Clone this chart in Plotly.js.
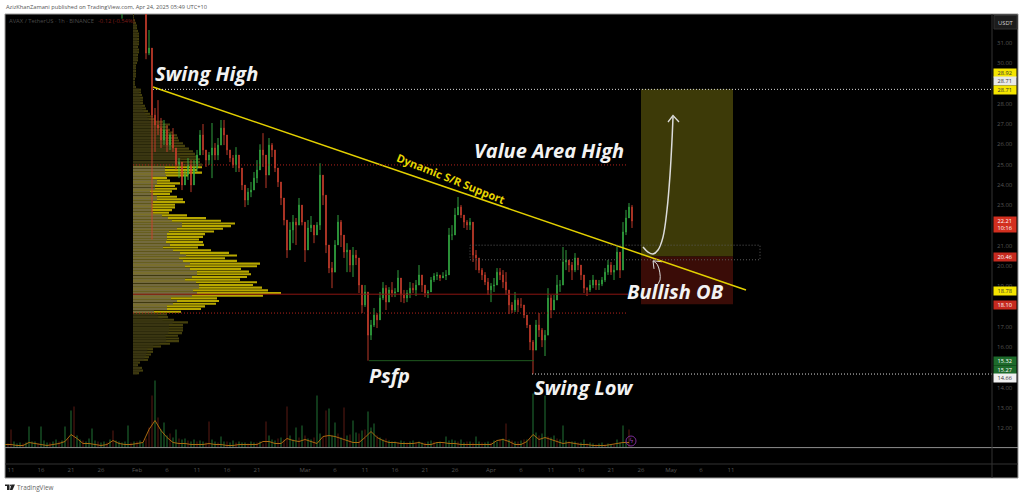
<!DOCTYPE html>
<html><head><meta charset="utf-8">
<script src="https://cdn.plot.ly/plotly-3.0.1.min.js"></script>
<style>html,body{margin:0;padding:0;background:#fff;overflow:hidden}#c{width:1024px;height:496px}</style>
</head><body><div id="c"></div>
<script>
// ---- 12h candles, starting 2025-01-29 12:00 ----
var candleStart = Date.UTC(2025,0,29,12);
var highs = [36,37,38,38,38,38,38,38,
33.5,31.64,28.9,27.79,28.18,27.30,27.20,26.95,26.55,26.80,25.72,25.32,24.98,24.73,25.32,25.22,25.22,25.72,26.70,27.00,25.72,25.62,27.05,26.06,26.31,27.20,27.20,26.46,25.72,25.47,25.86,25.32,24.73,23.99,23.84,24.14,24.63,25.22,26.00,26.55,25.32,26.31,26.06,25.72,24.73,23.89,22.90,22.16,22.16,22.51,22.36,23.35,23.00,21.12,22.26,22.46,22.01,22.16,25.07,23.89,23.49,20.53,20.19,21.27,22.51,22.26,21.52,21.12,20.53,20.93,20.78,20.04,19.05,19.05,18.31,17.33,17.92,17.67,18.71,19.20,19.05,18.95,19.20,18.90,19.79,19.15,18.81,18.81,19.20,19.15,19.30,20.04,19.45,19.05,18.81,19.45,19.64,19.69,19.55,19.69,19.79,21.87,22.01,22.85,23.40,23.00,22.51,22.26,22.36,22.01,20.78,20.29,19.89,19.69,19.40,19.15,19.40,19.89,19.89,19.79,19.69,18.81,18.21,18.71,18.41,18.41,18.07,17.57,17.08,16.34,17.33,17.67,16.93,16.83,18.90,18.56,18.56,19.55,19.30,20.93,20.78,20.29,20.19,20.63,20.39,20.04,19.30,18.95,19.30,19.55,19.20,19.30,19.45,19.89,20.29,20.19,20.04,20.93,20.68,22.16,22.76,23.10,23.00];
var lows = [32.2,33.5,34,34,34,34,34,34,
30.2,30.4,21.3,25.62,26.46,25.82,25.96,25.62,25.72,25.62,24.73,24.33,23.74,23.99,24.24,23.64,24.24,24.63,25.72,25.47,24.88,24.98,24.33,25.22,25.22,26.06,25.96,25.47,25.12,24.83,24.63,24.63,23.74,22.90,23.00,23.39,23.74,24.09,24.73,24.88,23.84,24.73,25.37,24.63,23.89,23.00,22.00,20.39,20.78,21.12,21.03,22.41,22.00,20.19,21.03,21.67,21.12,21.67,21.77,23.00,20.63,19.64,18.90,19.89,21.27,20.93,20.39,19.69,19.69,19.45,20.04,18.66,17.67,17.97,15.32,16.34,16.98,16.93,17.97,18.31,17.82,18.46,18.46,18.46,18.71,18.21,18.16,18.21,18.41,18.66,18.51,19.05,18.71,18.46,18.41,18.81,19.20,19.30,19.25,19.40,19.30,19.55,21.27,22.01,22.60,22.36,21.87,21.77,21.77,20.19,19.79,19.64,19.30,19.05,18.56,18.21,18.71,19.20,19.30,18.90,18.56,17.62,17.67,17.72,17.72,17.92,17.42,16.93,15.84,14.66,16.09,16.49,15.99,15.55,16.58,17.42,17.82,18.31,18.71,19.05,19.79,19.69,19.30,19.69,19.79,19.30,18.66,18.51,18.71,18.90,18.81,18.81,19.00,19.20,19.55,19.55,19.30,19.89,19.40,20.19,21.52,22.51,21.87];
var closes = [34,35,36,36.5,36,37,36.5,36,
30.5,30.75,27.44,26.95,26.80,26.21,26.70,25.96,26.46,25.82,24.98,25.12,23.99,24.48,24.98,23.99,24.83,25.47,26.46,25.72,25.22,25.47,25.82,25.47,25.96,26.80,26.46,25.72,25.32,24.98,25.47,24.83,23.99,23.25,23.64,23.74,24.33,24.73,25.72,25.47,24.48,25.96,25.72,24.83,24.14,23.35,22.26,20.78,21.77,22.16,22.01,23.00,22.16,20.78,21.87,22.01,21.52,22.01,24.48,23.49,21.03,19.89,19.69,21.03,22.16,21.52,20.68,20.78,20.04,20.53,20.39,19.05,18.07,18.71,16.58,17.08,17.57,17.33,18.41,18.90,18.21,18.81,18.66,18.71,19.40,18.56,18.41,18.66,18.90,18.81,19.05,19.55,19.05,18.66,18.71,19.30,19.50,19.55,19.40,19.50,19.55,21.52,21.52,22.51,22.90,22.51,22.16,22.01,22.16,20.53,20.39,19.79,19.55,19.20,18.81,19.00,19.05,19.69,19.55,19.20,18.81,18.07,17.82,18.31,18.07,18.07,17.57,17.08,16.24,15.84,17.08,16.83,16.34,16.58,18.41,17.82,18.31,19.05,19.05,20.19,20.29,20.04,19.79,20.39,20.04,19.55,18.90,18.81,19.05,19.30,19.05,19.10,19.30,19.69,20.04,19.69,19.79,20.68,19.79,21.67,22.36,22.90,22.21];

// ---- volume profile, rows from the lowest price up ----
var profileLowPrice = 14.70, profileRowStep = 0.132;
var profileTotal = [6,10,9,5,7,15,16,18,20,20,28,37,46,46,45,49,50,50,50,55,41,35,34,
48,68,72,83,86,84,130,148,135,129,120,124,107,114,118,116,108,124,127,104,92,104,96,78,65,71,70,66,70,72,81,90,98,102,88,73,54,36,39,42,42,52,50,44,37,39,44,42,47,37,34,55,69,64,69,
69,67,67,65,62,60,56,52,50,46,45,44,40,37,35,37,30,22,20,17,15,13,12,10,10,10,9,8,8,3,2,2,2,3,3,3,3,3,4,5,5,5,6,6,5,6,6,6,6,6,5,4,4,3,2,1,1];
var profileInner = [21,34,34,40,44,38,59,64,60,66,66,63,52,59,64,64,57,52,57,50,46,53,47,40,30,37,33,34,34,34,36,44,49,49,39,35,29,20,19,19,19,20,24,24,20,17,22,22,24,24,19,33,32,32,32];
var profileVaStartRow = 23;

// ---- volume, 12h steps from 2025-01-10; sign = direction ----
var volStart = Date.UTC(2025,0,10);
var volumes = [5,-4,-18,6,4,5,-4,5,21,6, 6,-4,21,7,5,-5,6,8,-6,7, 21,-9,37,-41,12,8,-7,6,9,19, 7,-6,5,6,-5,8,-17,7,6,5, 6,22,-5,6,-6,7,5,-9,-20,-52,
67,-30,18,25,12,-14,10,18,-9,8, 9,-7,6,8,-6,7,6,-5,-26,8, 6,-5,11,6,-6,5,7,-5,6,5, 5,-4,6,5,-5,6,-4,-26,12,8, 7,-9,10,-8,-41,12,8,20,-10,22,
-12,9,8,-10,52,14,-11,-37,39,12, 25,-14,10,-40,12,-13,27,15,-14,17, -18,36,20,24,-12,10,8,-9,7,6, 6,-5,7,6,-5,6,7,-5,6,5, -5,6,7,-6,5,6,-5,11,7,8,
7,-6,8,5,-6,6,-5,11,6,-5, 5,6,-5,7,6,-8,9,-24,8,-7, 6,-6,7,-8,8,-9,54,15,-12,14, 52,-11,10,12,-9,8,22,7,-6,6, 6,-5,5,8,-4,5,4,-3,4,5, -3,4,3,-3,8,5,22,6,-18,0];
// volume moving average, one value a day from 2025-01-10
var volumeMA = [3,3,2,2,5,4,3,2,3,4,6,13,9,4,4,3,2,3,7,4,3,3,4,5,18,27,17,10,5,4,4,3,3,3,4,3,3,2,2,3,3,3,3,6,6,4,4,9,7,6,8,6,4,11,12,11,9,7,5,5,10,16,10,7,5,5,4,4,4,5,3,3,5,5,4,4,3,3,3,3,3,3,7,8,6,3,3,6,13,8,10,8,6,4,5,4,3,3,2,2,2,3,4,5,5];

// ---- axes ----
var priceTicks = [31,30,28,27,26,25,24,23,21,20,19,17,16,14,13,12];
var dateTicks = ['2025-01-11','2025-01-16','2025-01-21','2025-01-26','2025-02-01','2025-02-06','2025-02-11','2025-02-16','2025-02-21','2025-03-01','2025-03-06','2025-03-11','2025-03-16','2025-03-21','2025-03-26','2025-04-01','2025-04-06','2025-04-11','2025-04-16','2025-04-21','2025-04-26','2025-05-01','2025-05-06','2025-05-11'];
var dateLabels = ['11','16','21','26','Feb','6','11','16','21','Mar','6','11','16','21','26','Apr','6','11','16','21','26','May','6','11'];

// ---- price levels and drawings ----
var swingHigh = 28.71, swingLow = 14.66, targetTop = 28.71, entry = 20.46, stop = 18.10;
var vaHigh = 24.98, vaLow = 17.67, poc = 18.6, psfpLow = 15.32;
var arrowX = ['2025-04-26 08:00','2025-04-27 04:00','2025-04-28 00:00','2025-04-28 20:00','2025-04-29 16:00','2025-04-30 08:00','2025-04-30 20:00','2025-05-01 04:00','2025-05-01 08:00'];
var arrowY = [20.93,20.68,20.58,20.78,21.42,22.76,24.48,26.21,27.35];
var headX = ['2025-04-30 12:00','2025-05-01 08:00','2025-05-02 08:00'];
var headY = [27.1,27.42,27.1];
var smallX = ['2025-04-28 06:00','2025-04-29 04:00','2025-04-28 18:00','2025-04-28 00:00'];
var smallY = [18.9,19.3,20.05,20.25];
var smallHeadX = ['2025-04-28 04:00','2025-04-28 00:00','2025-04-29 12:00'];
var smallHeadY = [19.85,20.25,20.2];

var tagTexts = ['28.92','28.71','28.71','22.21<br>10:16','20.46','18.78','18.10','15.32','15.27','14.66'];
var tagFill  = ['#f5e500','#e8e8e8','#f5e500','#d32f1f','#c62a1f','#f5e500','#c62a1f','#1d6b2b','#1d6b2b','#f0f0f0'];
var tagInk   = ['#333','#333','#333','#fff','#fff','#333','#fff','#fff','#fff','#333'];
var tagMid   = [72.5,81.3,89.7,224.5,257,291,304.7,361,369.7,378];
var tagH     = [8,8,8,15,8,8,8,8,8,8];

function px(x){return x/1024;} function py(y){return 1-y/496;}

// build traces
var cx=[],opens=[],hi=[],lo=[];
closes.forEach(function(c,i){
  var o = i? closes[i-1]:33;
  cx.push(new Date(candleStart+i*43200000).toISOString());
  opens.push(o); hi.push(Math.max(highs[i],o,c)); lo.push(Math.min(lows[i],o,c));
});
var pY=[],pX=[],pIn=[],pC=[],pInC=[];
profileTotal.forEach(function(t,k){
  pY.push(profileLowPrice+k*profileRowStep); pX.push(t);
  var va = k>=profileVaStartRow && k<profileVaStartRow+profileInner.length;
  pC.push(va?'#b8a800':'#45400d');
  pIn.push(va?profileInner[k-profileVaStartRow]:t*0.72);
  pInC.push(va?'#736a3e':'#3a3612');
});
var vx=[],vy=[],vc=[];
volumes.forEach(function(v,k){vx.push(new Date(volStart+k*43200000).toISOString());vy.push(Math.abs(v));vc.push(v>=0?'#1a5c2a':'#4a1510');});
var mx=volumeMA.map(function(v,k){return new Date(volStart+k*86400000).toISOString();});

var traces=[
 {type:'bar',orientation:'h',x:pX,y:pY,width:0.105,xaxis:'x',yaxis:'y',marker:{color:pC,line:{width:0}},hoverinfo:'skip'},
 {type:'bar',orientation:'h',x:pIn,y:pY,width:0.105,xaxis:'x',yaxis:'y',marker:{color:pInC,line:{width:0}},hoverinfo:'skip'},
 {type:'bar',x:vx,y:vy,width:18000000,xaxis:'x2',yaxis:'y2',marker:{color:vc,line:{width:0}},hoverinfo:'skip'},
 {type:'scatter',mode:'lines',x:mx,y:volumeMA,xaxis:'x2',yaxis:'y2',line:{color:'#a86a10',width:1},hoverinfo:'skip'},
 {type:'candlestick',x:cx,open:opens,high:hi,low:lo,close:closes,xaxis:'x2',yaxis:'y',whiskerwidth:0,
  increasing:{line:{color:'#35b045',width:0.9},fillcolor:'#35b045'},decreasing:{line:{color:'#cf3f2e',width:0.9},fillcolor:'#cf3f2e'},hoverinfo:'skip'},
 {type:'scatter',mode:'lines',x:arrowX,y:arrowY,xaxis:'x2',yaxis:'y',line:{color:'#dcdcdc',width:1.5,shape:'spline'},hoverinfo:'skip'},
 {type:'scatter',mode:'lines',x:headX,y:headY,xaxis:'x2',yaxis:'y',line:{color:'#dcdcdc',width:1.3},hoverinfo:'skip'},
 {type:'scatter',mode:'lines',x:smallX,y:smallY,xaxis:'x2',yaxis:'y',line:{color:'#dcdcdc',width:1,shape:'spline'},hoverinfo:'skip'},
 {type:'scatter',mode:'lines',x:smallHeadX,y:smallHeadY,xaxis:'x2',yaxis:'y',line:{color:'#dcdcdc',width:1},hoverinfo:'skip'}
];

function R(x0,y0,x1,y1,fill,line,lw,layer){return {type:'rect',xref:'paper',yref:'paper',x0:px(x0),x1:px(x1),y0:py(y0),y1:py(y1),fillcolor:fill,line:{color:line||'rgba(0,0,0,0)',width:lw||0},layer:layer||'above'};}
function L(x0,y0,x1,y1,col,w){return {type:'line',xref:'paper',yref:'paper',x0:px(x0),x1:px(x1),y0:py(y0),y1:py(y1),line:{color:col,width:w||1},layer:'above'};}
function D(x0,y0,x1,y1,col,w,dash){return {type:'line',xref:'x2',yref:'y',x0:x0,x1:x1,y0:y0,y1:y1,line:{color:col,width:w||1,dash:dash||'solid'},layer:'above'};}
var DOTS='1px,2px';

var shapes=[
 R(5,14,1018,478,'#000','#9a9a9a',1,'below'),
 {type:'rect',xref:'x2',yref:'y',x0:'2025-04-26',x1:'2025-05-11 08:00',y0:entry,y1:targetTop,fillcolor:'#3d3a08',line:{width:0},layer:'below'},
 {type:'rect',xref:'x2',yref:'y',x0:'2025-04-26',x1:'2025-05-11 08:00',y0:stop,y1:entry,fillcolor:'#3a0c07',line:{width:0},layer:'below'},
 D('2025-02-03 16:00',28.83,'2025-05-13 12:00',18.81,'#e3d000',1.5),
 D('2025-02-03 16:00',swingHigh,'2025-06-23 12:00',swingHigh,'#d8d8d8',1,DOTS),
 D('2025-04-07 20:00',swingLow,'2025-06-23 12:00',swingLow,'#d8d8d8',1,DOTS),
 D('2025-01-31 08:00',vaHigh,'2025-04-23 20:00',vaHigh,'#b3231c',1,DOTS),
 D('2025-01-31 08:00',vaLow,'2025-04-23 20:00',vaLow,'#b3231c',1,DOTS),
 D('2025-01-31 08:00',poc,'2025-04-23 20:00',poc,'#8c1512',1),
 D('2025-03-11 16:00',psfpLow,'2025-04-08 04:00',psfpLow,'#1f5a1f',1),
 {type:'rect',xref:'x2',yref:'y',x0:'2025-03-28 12:00',x1:'2025-05-15 20:00',y0:20.3,y1:21.02,fillcolor:'rgba(0,0,0,0)',line:{color:'#5c5c5c',width:1,dash:DOTS},layer:'above'},
 L(5,447.6,1018,447.6,'#8f8f8f',1),
 L(5,464,1018,464,'#333',1),
 L(992,14,992,478,'#333',1),
 {type:'rect',xref:'paper',yref:'paper',x0:px(994),x1:px(1017),y0:py(29),y1:py(15.5),fillcolor:'#1c1c1c',line:{color:'#303030',width:1},layer:'above'},
 {type:'circle',xref:'paper',yref:'paper',x0:px(626),x1:px(636),y0:py(446),y1:py(436),fillcolor:'rgba(0,0,0,0)',line:{color:'#7b2d96',width:1},layer:'above'},
 // TradingView mark
 R(5,484.5,9.5,486,'#222'),R(7,486,9.5,490,'#222'),
 {type:'circle',xref:'paper',yref:'paper',x0:px(10),x1:px(11.6),y0:py(486.2),y1:py(484.6),fillcolor:'#222',line:{width:0}},
 {type:'path',xref:'paper',yref:'paper',path:'M'+px(11.5)+','+py(484.5)+' L'+px(15)+','+py(484.5)+' L'+px(12.5)+','+py(490)+' L'+px(9.8)+','+py(490)+' Z',fillcolor:'#222',line:{width:0}}
];

var F='"Open Sans", sans-serif', HF='"Open Sans", sans-serif';
function T(x,y,text,size,col,anchor,extra){var a={xref:'paper',yref:'paper',x:px(x),y:py(y),text:text,showarrow:false,xanchor:anchor||'left',yanchor:'middle',font:{family:F,size:size,color:col},borderpad:0,borderwidth:0};for(var k in extra)a[k]=extra[k];return a;}
function H(x,y,text,size){return T(x,y,'<b><i>'+text+'</i></b>',size,'#f2f2f2','left',{font:{family:HF,size:size,color:'#f2f2f2'}});}
var ann=[
 T(5.5,6.8,'AzizKhanZamani published on TradingView.com, Apr 24, 2025 05:49 UTC+10',5.7,'#555'),
 T(9,20.5,'AVAX / TetherUS · 1h · BINANCE',5.8,'#4a4a4a'),
 T(98,20.5,'-0.12 (-0.54%)',5.8,'#7c1c18'),
 T(17,487.3,'TradingView',6.4,'#666'),
 T(1005.5,22.5,'USDT',5.8,'#cfcfcf','center'),
 T(631,441,'ϟ',7,'#8e3bb0','center',{font:{family:'DejaVu Sans',size:7,color:'#8e3bb0'}}),
 H(155,73,'Swing High',20),
 H(474,150,'Value Area High',20),
 H(369,375,'Psfp',20),
 H(534,387,'Swing Low',20),
 H(627,291,'Bullish OB',20),
 {xref:'paper',yref:'paper',x:px(451),y:py(179),text:'<b>Dynamic S/R Support</b>',showarrow:false,textangle:22,xanchor:'center',yanchor:'middle',font:{family:HF,size:11,color:'#e6d600'}}
];
tagTexts.forEach(function(t,i){
  ann.push({xref:'paper',yref:'paper',x:px(992.5),y:py(tagMid[i]),xanchor:'left',yanchor:'middle',text:t,showarrow:false,width:21.5,height:tagH[i],bgcolor:tagFill[i],borderpad:0,align:'center',valign:'middle',font:{family:F,size:5.6,color:tagInk[i]}});
});

var layout={
 width:1024,height:496,margin:{l:0,r:0,t:0,b:0,pad:0},paper_bgcolor:'#fff',plot_bgcolor:'#000',showlegend:false,
 barmode:'overlay',boxgap:0.75,dragmode:false,
 xaxis:{domain:[px(5),px(992)],range:[-128,859],visible:false,fixedrange:true},
 xaxis2:{overlaying:'x',anchor:'y',type:'date',side:'bottom',range:['2025-01-10 00:00','2025-06-23 12:00'],tickmode:'array',tickvals:dateTicks,ticktext:dateLabels,tickfont:{family:F,size:6,color:'#555'},ticks:'',showgrid:false,zeroline:false,showline:false,rangeslider:{visible:false},fixedrange:true,ticklabelstandoff:1},
 yaxis:{domain:[py(464),py(14)],range:[10.22,32.43],side:'right',anchor:'x',tickmode:'array',tickvals:priceTicks,ticktext:priceTicks.map(function(p){return p.toFixed(2);}),tickfont:{family:F,size:6,color:'#555'},ticks:'',showgrid:false,zeroline:false,showline:false,fixedrange:true,ticklabelstandoff:4},
 yaxis2:{overlaying:'y',range:[-16.5,433.5],visible:false,fixedrange:true},
 shapes:shapes,annotations:ann
};
Plotly.newPlot('c',traces,layout,{displayModeBar:false,staticPlot:true});
</script></body></html>
